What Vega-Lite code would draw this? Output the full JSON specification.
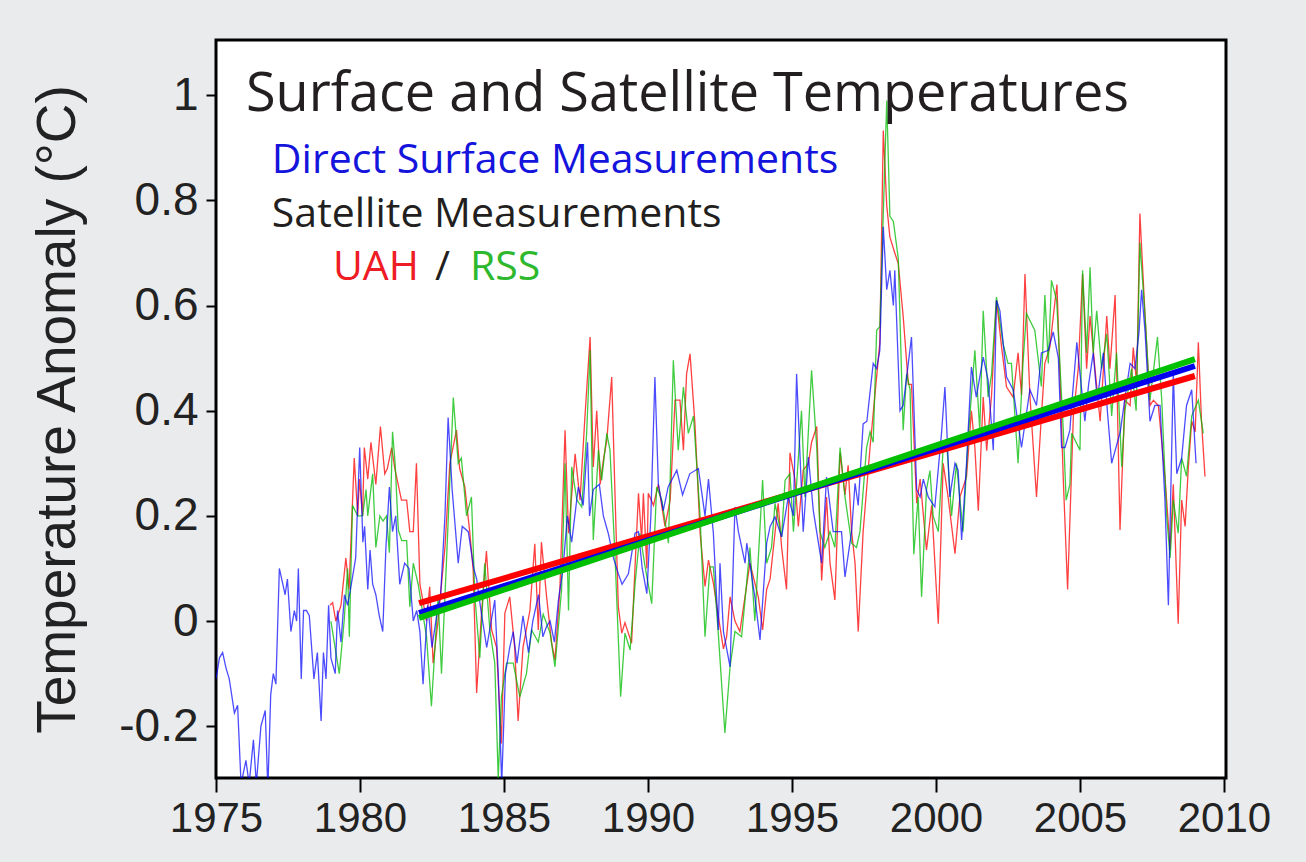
{
"$schema":"https://vega.github.io/schema/vega-lite/v6.json",
"width":1010,"height":738,
"autosize":{"type":"none"},
"padding":{"left":216,"top":40,"right":80,"bottom":84},
"background":"#eaebed",
"config":{"view":{"stroke":"#000","strokeWidth":3,"fill":"#ffffff"},
 "axisX":{"labelOverlap":false,"labelFlush":false,"labelBound":false,"grid":false,"domain":false,"ticks":true,"tickSize":14,"tickWidth":2,"tickColor":"#000","labelFont":"Liberation Sans","labelFontSize":42,"labelColor":"#222","labelPadding":6},
 "axisY":{"labelOverlap":false,"labelFlush":false,"labelBound":false,"grid":false,"domain":false,"ticks":true,"tickSize":10,"tickWidth":2,"tickColor":"#000","labelFont":"Liberation Sans","labelFontSize":46,"labelColor":"#222","labelPadding":8,"titleFont":"Liberation Sans","titleFontSize":55,"titleFontWeight":"normal","titleColor":"#222","titlePadding":32}},
"data":{"values":[
{"s":"b","t":1975.00,"v":-0.11},{"s":"b","t":1975.12,"v":-0.07},{"s":"b","t":1975.23,"v":-0.06},{"s":"b","t":1975.35,"v":-0.09},{"s":"b","t":1975.46,"v":-0.11},{"s":"b","t":1975.64,"v":-0.175},{"s":"b","t":1975.75,"v":-0.16},{"s":"b","t":1975.87,"v":-0.31},{"s":"b","t":1976.04,"v":-0.265},{"s":"b","t":1976.15,"v":-0.31},{"s":"b","t":1976.30,"v":-0.226},{"s":"b","t":1976.40,"v":-0.31},{"s":"b","t":1976.56,"v":-0.20},{"s":"b","t":1976.71,"v":-0.17},{"s":"b","t":1976.80,"v":-0.32},{"s":"b","t":1976.90,"v":-0.14},{"s":"b","t":1976.99,"v":-0.10},{"s":"b","t":1977.08,"v":-0.12},{"s":"b","t":1977.20,"v":0.10},{"s":"b","t":1977.32,"v":0.07},{"s":"b","t":1977.40,"v":0.05},{"s":"b","t":1977.48,"v":0.08},{"s":"b","t":1977.60,"v":-0.02},{"s":"b","t":1977.72,"v":0.02},{"s":"b","t":1977.80,"v":0.00},{"s":"b","t":1977.86,"v":0.10},{"s":"b","t":1977.96,"v":-0.11},{"s":"b","t":1978.04,"v":0.02},{"s":"b","t":1978.14,"v":0.02},{"s":"b","t":1978.24,"v":0.01},{"s":"b","t":1978.40,"v":-0.11},{"s":"b","t":1978.52,"v":-0.06},{"s":"b","t":1978.65,"v":-0.19},{"s":"b","t":1978.73,"v":-0.06},{"s":"b","t":1978.82,"v":-0.11},{"s":"b","t":1978.91,"v":0.03},{"s":"b","t":1978.99,"v":-0.07},{"s":"b","t":1979.14,"v":-0.10},{"s":"b","t":1979.22,"v":0.02},{"s":"b","t":1979.34,"v":-0.04},{"s":"b","t":1979.46,"v":0.05},{"s":"b","t":1979.57,"v":0.03},{"s":"b","t":1979.73,"v":0.08},{"s":"b","t":1979.85,"v":0.12},{"s":"b","t":1979.99,"v":0.33},{"s":"b","t":1980.10,"v":0.15},{"s":"b","t":1980.16,"v":0.18},{"s":"b","t":1980.27,"v":0.06},{"s":"b","t":1980.35,"v":0.135},{"s":"b","t":1980.44,"v":0.07},{"s":"b","t":1980.55,"v":0.05},{"s":"b","t":1980.67,"v":0.01},{"s":"b","t":1980.79,"v":-0.02},{"s":"b","t":1980.90,"v":0.14},{"s":"b","t":1981.02,"v":0.255},{"s":"b","t":1981.13,"v":0.17},{"s":"b","t":1981.24,"v":0.20},{"s":"b","t":1981.38,"v":0.07},{"s":"b","t":1981.55,"v":0.11},{"s":"b","t":1981.70,"v":0.10},{"s":"b","t":1981.85,"v":0.00},{"s":"b","t":1981.97,"v":0.02},{"s":"b","t":1982.08,"v":-0.02},{"s":"b","t":1982.19,"v":-0.12},{"s":"b","t":1982.35,"v":0.03},{"s":"b","t":1982.50,"v":-0.05},{"s":"b","t":1982.66,"v":0.01},{"s":"b","t":1982.80,"v":0.05},{"s":"b","t":1982.95,"v":0.20},{"s":"b","t":1983.06,"v":0.387},{"s":"b","t":1983.20,"v":0.25},{"s":"b","t":1983.41,"v":0.11},{"s":"b","t":1983.55,"v":0.18},{"s":"b","t":1983.76,"v":0.17},{"s":"b","t":1983.95,"v":0.10},{"s":"b","t":1984.05,"v":0.08},{"s":"b","t":1984.20,"v":0.02},{"s":"b","t":1984.40,"v":-0.05},{"s":"b","t":1984.68,"v":0.04},{"s":"b","t":1984.80,"v":-0.10},{"s":"b","t":1984.92,"v":-0.31},{"s":"b","t":1985.05,"v":-0.10},{"s":"b","t":1985.20,"v":-0.05},{"s":"b","t":1985.32,"v":-0.02},{"s":"b","t":1985.45,"v":-0.08},{"s":"b","t":1985.66,"v":0.01},{"s":"b","t":1985.85,"v":-0.06},{"s":"b","t":1986.00,"v":0.00},{"s":"b","t":1986.20,"v":0.05},{"s":"b","t":1986.35,"v":-0.03},{"s":"b","t":1986.48,"v":-0.01},{"s":"b","t":1986.60,"v":0.00},{"s":"b","t":1986.75,"v":-0.04},{"s":"b","t":1986.89,"v":0.04},{"s":"b","t":1987.05,"v":0.10},{"s":"b","t":1987.20,"v":0.20},{"s":"b","t":1987.35,"v":0.15},{"s":"b","t":1987.58,"v":0.255},{"s":"b","t":1987.75,"v":0.22},{"s":"b","t":1987.90,"v":0.34},{"s":"b","t":1987.97,"v":0.20},{"s":"b","t":1988.10,"v":0.25},{"s":"b","t":1988.31,"v":0.26},{"s":"b","t":1988.45,"v":0.20},{"s":"b","t":1988.62,"v":0.167},{"s":"b","t":1988.80,"v":0.12},{"s":"b","t":1988.97,"v":0.09},{"s":"b","t":1989.10,"v":0.07},{"s":"b","t":1989.32,"v":0.09},{"s":"b","t":1989.55,"v":0.167},{"s":"b","t":1989.67,"v":0.17},{"s":"b","t":1989.80,"v":0.10},{"s":"b","t":1989.96,"v":0.052},{"s":"b","t":1990.10,"v":0.20},{"s":"b","t":1990.24,"v":0.464},{"s":"b","t":1990.36,"v":0.26},{"s":"b","t":1990.53,"v":0.21},{"s":"b","t":1990.70,"v":0.255},{"s":"b","t":1991.00,"v":0.287},{"s":"b","t":1991.20,"v":0.24},{"s":"b","t":1991.45,"v":0.28},{"s":"b","t":1991.75,"v":0.29},{"s":"b","t":1991.98,"v":0.20},{"s":"b","t":1992.10,"v":0.27},{"s":"b","t":1992.27,"v":0.167},{"s":"b","t":1992.44,"v":-0.017},{"s":"b","t":1992.50,"v":0.11},{"s":"b","t":1992.62,"v":-0.02},{"s":"b","t":1992.85,"v":-0.087},{"s":"b","t":1993.02,"v":0.217},{"s":"b","t":1993.14,"v":0.17},{"s":"b","t":1993.37,"v":0.11},{"s":"b","t":1993.43,"v":0.148},{"s":"b","t":1993.71,"v":0.046},{"s":"b","t":1993.89,"v":-0.036},{"s":"b","t":1994.12,"v":0.148},{"s":"b","t":1994.24,"v":0.18},{"s":"b","t":1994.41,"v":0.198},{"s":"b","t":1994.64,"v":0.16},{"s":"b","t":1994.87,"v":0.236},{"s":"b","t":1995.05,"v":0.20},{"s":"b","t":1995.16,"v":0.47},{"s":"b","t":1995.39,"v":0.17},{"s":"b","t":1995.57,"v":0.312},{"s":"b","t":1995.74,"v":0.21},{"s":"b","t":1996.03,"v":0.11},{"s":"b","t":1996.20,"v":0.274},{"s":"b","t":1996.43,"v":0.17},{"s":"b","t":1996.72,"v":0.17},{"s":"b","t":1996.84,"v":0.084},{"s":"b","t":1997.07,"v":0.17},{"s":"b","t":1997.19,"v":0.262},{"s":"b","t":1997.30,"v":0.22},{"s":"b","t":1997.47,"v":0.375},{"s":"b","t":1997.60,"v":0.38},{"s":"b","t":1997.82,"v":0.49},{"s":"b","t":1997.94,"v":0.48},{"s":"b","t":1998.05,"v":0.515},{"s":"b","t":1998.17,"v":0.75},{"s":"b","t":1998.29,"v":0.63},{"s":"b","t":1998.40,"v":0.667},{"s":"b","t":1998.52,"v":0.60},{"s":"b","t":1998.57,"v":0.667},{"s":"b","t":1998.75,"v":0.40},{"s":"b","t":1998.86,"v":0.41},{"s":"b","t":1999.15,"v":0.54},{"s":"b","t":1999.33,"v":0.25},{"s":"b","t":1999.45,"v":0.236},{"s":"b","t":1999.56,"v":0.27},{"s":"b","t":1999.73,"v":0.236},{"s":"b","t":1999.96,"v":0.217},{"s":"b","t":2000.19,"v":0.356},{"s":"b","t":2000.31,"v":0.445},{"s":"b","t":2000.48,"v":0.236},{"s":"b","t":2000.66,"v":0.30},{"s":"b","t":2000.77,"v":0.287},{"s":"b","t":2000.89,"v":0.154},{"s":"b","t":2001.06,"v":0.30},{"s":"b","t":2001.23,"v":0.483},{"s":"b","t":2001.40,"v":0.426},{"s":"b","t":2001.64,"v":0.502},{"s":"b","t":2001.81,"v":0.458},{"s":"b","t":2001.99,"v":0.325},{"s":"b","t":2002.10,"v":0.61},{"s":"b","t":2002.22,"v":0.59},{"s":"b","t":2002.45,"v":0.464},{"s":"b","t":2002.68,"v":0.44},{"s":"b","t":2002.97,"v":0.33},{"s":"b","t":2003.26,"v":0.44},{"s":"b","t":2003.49,"v":0.41},{"s":"b","t":2003.66,"v":0.51},{"s":"b","t":2003.90,"v":0.515},{"s":"b","t":2004.07,"v":0.55},{"s":"b","t":2004.25,"v":0.50},{"s":"b","t":2004.36,"v":0.33},{"s":"b","t":2004.48,"v":0.33},{"s":"b","t":2004.65,"v":0.363},{"s":"b","t":2004.71,"v":0.41},{"s":"b","t":2004.89,"v":0.53},{"s":"b","t":2005.17,"v":0.38},{"s":"b","t":2005.30,"v":0.45},{"s":"b","t":2005.46,"v":0.51},{"s":"b","t":2005.60,"v":0.42},{"s":"b","t":2005.81,"v":0.51},{"s":"b","t":2005.95,"v":0.40},{"s":"b","t":2006.10,"v":0.30},{"s":"b","t":2006.40,"v":0.36},{"s":"b","t":2006.55,"v":0.42},{"s":"b","t":2006.74,"v":0.49},{"s":"b","t":2006.91,"v":0.48},{"s":"b","t":2007.05,"v":0.55},{"s":"b","t":2007.14,"v":0.63},{"s":"b","t":2007.26,"v":0.55},{"s":"b","t":2007.43,"v":0.38},{"s":"b","t":2007.60,"v":0.41},{"s":"b","t":2007.78,"v":0.41},{"s":"b","t":2007.95,"v":0.23},{"s":"b","t":2008.07,"v":0.03},{"s":"b","t":2008.24,"v":0.47},{"s":"b","t":2008.36,"v":0.28},{"s":"b","t":2008.53,"v":0.31},{"s":"b","t":2008.70,"v":0.41},{"s":"b","t":2008.88,"v":0.44},{"s":"b","t":2009.03,"v":0.30},
{"s":"u","t":1978.96,"v":0.03},{"s":"u","t":1979.05,"v":0.035},{"s":"u","t":1979.16,"v":0.00},{"s":"u","t":1979.34,"v":0.03},{"s":"u","t":1979.51,"v":0.12},{"s":"u","t":1979.62,"v":0.06},{"s":"u","t":1979.80,"v":0.31},{"s":"u","t":1979.92,"v":0.20},{"s":"u","t":1979.98,"v":0.27},{"s":"u","t":1980.09,"v":0.20},{"s":"u","t":1980.15,"v":0.33},{"s":"u","t":1980.27,"v":0.27},{"s":"u","t":1980.38,"v":0.34},{"s":"u","t":1980.55,"v":0.26},{"s":"u","t":1980.71,"v":0.37},{"s":"u","t":1980.86,"v":0.28},{"s":"u","t":1980.95,"v":0.29},{"s":"u","t":1981.10,"v":0.33},{"s":"u","t":1981.21,"v":0.29},{"s":"u","t":1981.44,"v":0.23},{"s":"u","t":1981.62,"v":0.23},{"s":"u","t":1981.73,"v":0.17},{"s":"u","t":1981.85,"v":0.17},{"s":"u","t":1981.96,"v":0.30},{"s":"u","t":1982.08,"v":0.07},{"s":"u","t":1982.31,"v":0.00},{"s":"u","t":1982.42,"v":0.065},{"s":"u","t":1982.54,"v":-0.08},{"s":"u","t":1982.71,"v":0.00},{"s":"u","t":1982.95,"v":0.14},{"s":"u","t":1983.12,"v":0.30},{"s":"u","t":1983.35,"v":0.363},{"s":"u","t":1983.46,"v":0.29},{"s":"u","t":1983.64,"v":0.255},{"s":"u","t":1983.81,"v":0.17},{"s":"u","t":1983.93,"v":0.097},{"s":"u","t":1984.05,"v":-0.137},{"s":"u","t":1984.22,"v":0.015},{"s":"u","t":1984.39,"v":0.133},{"s":"u","t":1984.57,"v":-0.017},{"s":"u","t":1984.74,"v":-0.05},{"s":"u","t":1984.91,"v":-0.233},{"s":"u","t":1985.03,"v":0.015},{"s":"u","t":1985.20,"v":0.046},{"s":"u","t":1985.37,"v":-0.05},{"s":"u","t":1985.49,"v":-0.19},{"s":"u","t":1985.66,"v":-0.05},{"s":"u","t":1985.90,"v":0.02},{"s":"u","t":1986.07,"v":0.147},{"s":"u","t":1986.19,"v":-0.017},{"s":"u","t":1986.30,"v":0.15},{"s":"u","t":1986.48,"v":0.046},{"s":"u","t":1986.65,"v":-0.04},{"s":"u","t":1986.77,"v":-0.074},{"s":"u","t":1986.94,"v":0.06},{"s":"u","t":1987.12,"v":0.363},{"s":"u","t":1987.24,"v":0.167},{"s":"u","t":1987.47,"v":0.318},{"s":"u","t":1987.64,"v":0.23},{"s":"u","t":1987.81,"v":0.388},{"s":"u","t":1987.99,"v":0.54},{"s":"u","t":1988.10,"v":0.293},{"s":"u","t":1988.22,"v":0.40},{"s":"u","t":1988.34,"v":0.26},{"s":"u","t":1988.45,"v":0.306},{"s":"u","t":1988.57,"v":0.344},{"s":"u","t":1988.74,"v":0.464},{"s":"u","t":1988.86,"v":0.23},{"s":"u","t":1988.97,"v":0.027},{"s":"u","t":1989.09,"v":-0.023},{"s":"u","t":1989.20,"v":-0.003},{"s":"u","t":1989.43,"v":-0.042},{"s":"u","t":1989.55,"v":0.103},{"s":"u","t":1989.67,"v":0.243},{"s":"u","t":1989.78,"v":0.154},{"s":"u","t":1989.84,"v":0.243},{"s":"u","t":1989.96,"v":0.10},{"s":"u","t":1990.01,"v":0.243},{"s":"u","t":1990.19,"v":0.22},{"s":"u","t":1990.36,"v":0.26},{"s":"u","t":1990.59,"v":0.18},{"s":"u","t":1990.77,"v":0.23},{"s":"u","t":1990.94,"v":0.42},{"s":"u","t":1991.11,"v":0.42},{"s":"u","t":1991.23,"v":0.325},{"s":"u","t":1991.34,"v":0.47},{"s":"u","t":1991.46,"v":0.508},{"s":"u","t":1991.63,"v":0.375},{"s":"u","t":1991.81,"v":0.167},{"s":"u","t":1991.98,"v":0.066},{"s":"u","t":1992.10,"v":0.116},{"s":"u","t":1992.27,"v":0.072},{"s":"u","t":1992.44,"v":0.01},{"s":"u","t":1992.62,"v":-0.053},{"s":"u","t":1992.73,"v":-0.03},{"s":"u","t":1992.85,"v":0.046},{"s":"u","t":1993.02,"v":0.00},{"s":"u","t":1993.19,"v":-0.02},{"s":"u","t":1993.54,"v":0.11},{"s":"u","t":1993.83,"v":0.046},{"s":"u","t":1993.98,"v":-0.017},{"s":"u","t":1994.12,"v":0.06},{"s":"u","t":1994.24,"v":0.08},{"s":"u","t":1994.52,"v":0.224},{"s":"u","t":1994.64,"v":0.14},{"s":"u","t":1994.81,"v":0.06},{"s":"u","t":1994.93,"v":0.32},{"s":"u","t":1995.10,"v":0.27},{"s":"u","t":1995.22,"v":0.18},{"s":"u","t":1995.39,"v":0.287},{"s":"u","t":1995.57,"v":0.30},{"s":"u","t":1995.68,"v":0.34},{"s":"u","t":1995.86,"v":0.37},{"s":"u","t":1996.03,"v":0.077},{"s":"u","t":1996.20,"v":0.236},{"s":"u","t":1996.32,"v":0.11},{"s":"u","t":1996.49,"v":0.04},{"s":"u","t":1996.67,"v":0.32},{"s":"u","t":1996.84,"v":0.24},{"s":"u","t":1996.95,"v":0.296},{"s":"u","t":1997.07,"v":0.17},{"s":"u","t":1997.19,"v":0.11},{"s":"u","t":1997.30,"v":-0.02},{"s":"u","t":1997.47,"v":0.17},{"s":"u","t":1997.71,"v":0.33},{"s":"u","t":1997.88,"v":0.43},{"s":"u","t":1998.05,"v":0.53},{"s":"u","t":1998.17,"v":0.933},{"s":"u","t":1998.29,"v":0.79},{"s":"u","t":1998.40,"v":0.73},{"s":"u","t":1998.57,"v":0.70},{"s":"u","t":1998.69,"v":0.68},{"s":"u","t":1998.86,"v":0.58},{"s":"u","t":1999.04,"v":0.45},{"s":"u","t":1999.15,"v":0.45},{"s":"u","t":1999.33,"v":0.224},{"s":"u","t":1999.45,"v":0.27},{"s":"u","t":1999.67,"v":0.135},{"s":"u","t":1999.85,"v":0.22},{"s":"u","t":2000.08,"v":-0.005},{"s":"u","t":2000.25,"v":0.30},{"s":"u","t":2000.42,"v":0.236},{"s":"u","t":2000.66,"v":0.128},{"s":"u","t":2000.83,"v":0.236},{"s":"u","t":2001.06,"v":0.274},{"s":"u","t":2001.23,"v":0.40},{"s":"u","t":2001.35,"v":0.33},{"s":"u","t":2001.47,"v":0.21},{"s":"u","t":2001.64,"v":0.426},{"s":"u","t":2001.76,"v":0.324},{"s":"u","t":2001.93,"v":0.43},{"s":"u","t":2002.10,"v":0.61},{"s":"u","t":2002.28,"v":0.52},{"s":"u","t":2002.45,"v":0.445},{"s":"u","t":2002.68,"v":0.426},{"s":"u","t":2002.85,"v":0.51},{"s":"u","t":2002.97,"v":0.43},{"s":"u","t":2003.09,"v":0.66},{"s":"u","t":2003.26,"v":0.43},{"s":"u","t":2003.49,"v":0.236},{"s":"u","t":2003.66,"v":0.39},{"s":"u","t":2003.78,"v":0.49},{"s":"u","t":2003.95,"v":0.52},{"s":"u","t":2004.20,"v":0.64},{"s":"u","t":2004.42,"v":0.27},{"s":"u","t":2004.57,"v":0.06},{"s":"u","t":2004.77,"v":0.39},{"s":"u","t":2004.94,"v":0.48},{"s":"u","t":2005.09,"v":0.66},{"s":"u","t":2005.23,"v":0.48},{"s":"u","t":2005.35,"v":0.58},{"s":"u","t":2005.52,"v":0.48},{"s":"u","t":2005.70,"v":0.38},{"s":"u","t":2005.93,"v":0.58},{"s":"u","t":2006.04,"v":0.48},{"s":"u","t":2006.22,"v":0.62},{"s":"u","t":2006.39,"v":0.173},{"s":"u","t":2006.56,"v":0.42},{"s":"u","t":2006.74,"v":0.41},{"s":"u","t":2006.85,"v":0.52},{"s":"u","t":2006.97,"v":0.45},{"s":"u","t":2007.08,"v":0.775},{"s":"u","t":2007.26,"v":0.58},{"s":"u","t":2007.43,"v":0.41},{"s":"u","t":2007.55,"v":0.42},{"s":"u","t":2007.72,"v":0.41},{"s":"u","t":2007.95,"v":0.275},{"s":"u","t":2008.13,"v":0.135},{"s":"u","t":2008.24,"v":0.26},{"s":"u","t":2008.41,"v":-0.005},{"s":"u","t":2008.53,"v":0.23},{"s":"u","t":2008.65,"v":0.18},{"s":"u","t":2008.76,"v":0.29},{"s":"u","t":2008.88,"v":0.38},{"s":"u","t":2009.00,"v":0.36},{"s":"u","t":2009.11,"v":0.53},{"s":"u","t":2009.22,"v":0.38},{"s":"u","t":2009.34,"v":0.275},
{"s":"r","t":1978.99,"v":0.00},{"s":"r","t":1979.28,"v":-0.10},{"s":"r","t":1979.45,"v":0.00},{"s":"r","t":1979.57,"v":0.10},{"s":"r","t":1979.63,"v":-0.03},{"s":"r","t":1979.74,"v":0.22},{"s":"r","t":1979.92,"v":0.20},{"s":"r","t":1980.09,"v":0.20},{"s":"r","t":1980.21,"v":0.25},{"s":"r","t":1980.27,"v":0.20},{"s":"r","t":1980.44,"v":0.28},{"s":"r","t":1980.55,"v":0.14},{"s":"r","t":1980.69,"v":0.20},{"s":"r","t":1980.80,"v":0.19},{"s":"r","t":1980.92,"v":0.20},{"s":"r","t":1981.02,"v":0.13},{"s":"r","t":1981.13,"v":0.36},{"s":"r","t":1981.22,"v":0.30},{"s":"r","t":1981.33,"v":0.173},{"s":"r","t":1981.45,"v":0.153},{"s":"r","t":1981.62,"v":0.153},{"s":"r","t":1981.73,"v":0.027},{"s":"r","t":1981.85,"v":0.11},{"s":"r","t":1982.02,"v":0.07},{"s":"r","t":1982.31,"v":-0.03},{"s":"r","t":1982.48,"v":-0.162},{"s":"r","t":1982.71,"v":0.046},{"s":"r","t":1982.83,"v":-0.10},{"s":"r","t":1983.00,"v":0.11},{"s":"r","t":1983.24,"v":0.425},{"s":"r","t":1983.41,"v":0.30},{"s":"r","t":1983.52,"v":0.31},{"s":"r","t":1983.70,"v":0.20},{"s":"r","t":1983.87,"v":0.236},{"s":"r","t":1983.99,"v":0.046},{"s":"r","t":1984.16,"v":-0.07},{"s":"r","t":1984.33,"v":0.11},{"s":"r","t":1984.51,"v":-0.017},{"s":"r","t":1984.68,"v":-0.08},{"s":"r","t":1984.80,"v":-0.30},{"s":"r","t":1984.91,"v":-0.144},{"s":"r","t":1985.09,"v":-0.08},{"s":"r","t":1985.32,"v":-0.08},{"s":"r","t":1985.55,"v":-0.144},{"s":"r","t":1985.78,"v":-0.10},{"s":"r","t":1985.96,"v":-0.017},{"s":"r","t":1986.19,"v":-0.04},{"s":"r","t":1986.36,"v":0.013},{"s":"r","t":1986.60,"v":-0.023},{"s":"r","t":1986.77,"v":-0.087},{"s":"r","t":1987.00,"v":0.06},{"s":"r","t":1987.12,"v":0.30},{"s":"r","t":1987.24,"v":0.02},{"s":"r","t":1987.35,"v":0.293},{"s":"r","t":1987.53,"v":0.23},{"s":"r","t":1987.70,"v":0.217},{"s":"r","t":1987.87,"v":0.357},{"s":"r","t":1987.99,"v":0.515},{"s":"r","t":1988.10,"v":0.154},{"s":"r","t":1988.28,"v":0.325},{"s":"r","t":1988.39,"v":0.268},{"s":"r","t":1988.57,"v":0.357},{"s":"r","t":1988.68,"v":0.325},{"s":"r","t":1988.86,"v":0.116},{"s":"r","t":1989.05,"v":-0.144},{"s":"r","t":1989.20,"v":-0.023},{"s":"r","t":1989.38,"v":-0.055},{"s":"r","t":1989.55,"v":0.07},{"s":"r","t":1989.72,"v":0.167},{"s":"r","t":1989.90,"v":0.103},{"s":"r","t":1990.13,"v":0.033},{"s":"r","t":1990.30,"v":0.255},{"s":"r","t":1990.48,"v":0.23},{"s":"r","t":1990.71,"v":0.148},{"s":"r","t":1990.88,"v":0.496},{"s":"r","t":1991.05,"v":0.325},{"s":"r","t":1991.23,"v":0.445},{"s":"r","t":1991.40,"v":0.357},{"s":"r","t":1991.58,"v":0.39},{"s":"r","t":1991.81,"v":0.198},{"s":"r","t":1991.98,"v":-0.03},{"s":"r","t":1992.15,"v":0.103},{"s":"r","t":1992.27,"v":0.103},{"s":"r","t":1992.44,"v":-0.023},{"s":"r","t":1992.67,"v":-0.213},{"s":"r","t":1992.85,"v":-0.087},{"s":"r","t":1993.02,"v":-0.02},{"s":"r","t":1993.25,"v":-0.03},{"s":"r","t":1993.54,"v":0.14},{"s":"r","t":1993.71,"v":0.00},{"s":"r","t":1993.98,"v":0.268},{"s":"r","t":1994.12,"v":0.11},{"s":"r","t":1994.29,"v":0.14},{"s":"r","t":1994.41,"v":0.224},{"s":"r","t":1994.64,"v":0.16},{"s":"r","t":1994.76,"v":0.268},{"s":"r","t":1994.93,"v":0.28},{"s":"r","t":1995.05,"v":0.17},{"s":"r","t":1995.33,"v":0.40},{"s":"r","t":1995.45,"v":0.236},{"s":"r","t":1995.68,"v":0.477},{"s":"r","t":1995.86,"v":0.33},{"s":"r","t":1995.97,"v":0.17},{"s":"r","t":1996.14,"v":0.14},{"s":"r","t":1996.32,"v":0.17},{"s":"r","t":1996.49,"v":0.14},{"s":"r","t":1996.67,"v":0.33},{"s":"r","t":1996.84,"v":0.236},{"s":"r","t":1997.07,"v":0.148},{"s":"r","t":1997.24,"v":0.14},{"s":"r","t":1997.36,"v":0.17},{"s":"r","t":1997.59,"v":0.33},{"s":"r","t":1997.71,"v":0.36},{"s":"r","t":1997.82,"v":0.34},{"s":"r","t":1997.94,"v":0.553},{"s":"r","t":1998.05,"v":0.56},{"s":"r","t":1998.29,"v":0.99},{"s":"r","t":1998.40,"v":0.77},{"s":"r","t":1998.52,"v":0.76},{"s":"r","t":1998.69,"v":0.69},{"s":"r","t":1998.86,"v":0.363},{"s":"r","t":1998.98,"v":0.47},{"s":"r","t":1999.10,"v":0.44},{"s":"r","t":1999.23,"v":0.127},{"s":"r","t":1999.38,"v":0.236},{"s":"r","t":1999.50,"v":0.046},{"s":"r","t":1999.67,"v":0.25},{"s":"r","t":1999.79,"v":0.286},{"s":"r","t":1999.90,"v":0.20},{"s":"r","t":2000.08,"v":0.17},{"s":"r","t":2000.25,"v":0.33},{"s":"r","t":2000.37,"v":0.34},{"s":"r","t":2000.54,"v":0.20},{"s":"r","t":2000.71,"v":0.30},{"s":"r","t":2000.94,"v":0.17},{"s":"r","t":2001.12,"v":0.35},{"s":"r","t":2001.35,"v":0.515},{"s":"r","t":2001.52,"v":0.363},{"s":"r","t":2001.64,"v":0.59},{"s":"r","t":2001.81,"v":0.426},{"s":"r","t":2001.93,"v":0.47},{"s":"r","t":2002.10,"v":0.616},{"s":"r","t":2002.33,"v":0.527},{"s":"r","t":2002.50,"v":0.49},{"s":"r","t":2002.62,"v":0.49},{"s":"r","t":2002.85,"v":0.30},{"s":"r","t":2003.02,"v":0.49},{"s":"r","t":2003.14,"v":0.585},{"s":"r","t":2003.43,"v":0.553},{"s":"r","t":2003.66,"v":0.446},{"s":"r","t":2003.78,"v":0.62},{"s":"r","t":2003.90,"v":0.49},{"s":"r","t":2004.01,"v":0.648},{"s":"r","t":2004.19,"v":0.61},{"s":"r","t":2004.42,"v":0.363},{"s":"r","t":2004.52,"v":0.23},{"s":"r","t":2004.65,"v":0.26},{"s":"r","t":2004.71,"v":0.357},{"s":"r","t":2005.00,"v":0.325},{"s":"r","t":2005.09,"v":0.667},{"s":"r","t":2005.23,"v":0.51},{"s":"r","t":2005.35,"v":0.673},{"s":"r","t":2005.46,"v":0.51},{"s":"r","t":2005.58,"v":0.59},{"s":"r","t":2005.75,"v":0.48},{"s":"r","t":2005.93,"v":0.546},{"s":"r","t":2006.10,"v":0.39},{"s":"r","t":2006.27,"v":0.51},{"s":"r","t":2006.45,"v":0.293},{"s":"r","t":2006.56,"v":0.40},{"s":"r","t":2006.79,"v":0.48},{"s":"r","t":2006.95,"v":0.40},{"s":"r","t":2007.08,"v":0.72},{"s":"r","t":2007.26,"v":0.58},{"s":"r","t":2007.43,"v":0.42},{"s":"r","t":2007.69,"v":0.54},{"s":"r","t":2007.84,"v":0.42},{"s":"r","t":2008.01,"v":0.20},{"s":"r","t":2008.13,"v":0.12},{"s":"r","t":2008.24,"v":0.23},{"s":"r","t":2008.41,"v":0.167},{"s":"r","t":2008.53,"v":0.31},{"s":"r","t":2008.70,"v":0.275},{"s":"r","t":2008.88,"v":0.39},{"s":"r","t":2009.11,"v":0.42},{"s":"r","t":2009.28,"v":0.357},
{"s":"tu","t":1982.05,"v":0.034},{"s":"tu","t":2008.99,"v":0.466},
{"s":"tb","t":1982.05,"v":0.015},{"s":"tb","t":2008.99,"v":0.485},
{"s":"tr","t":1982.05,"v":0.006},{"s":"tr","t":2008.99,"v":0.498}
]},
"layer":[
{"transform":[{"filter":"datum.s=='u'"}],"mark":{"type":"line","color":"#ff0000","strokeWidth":1.3,"opacity":0.75,"clip":true},
 "encoding":{"x":{"field":"t","type":"quantitative","scale":{"domain":[1975,2010.07],"nice":false,"zero":false},"axis":{"values":[1975,1980,1985,1990,1995,2000,2005,2010],"labelExpr":"'' + datum.value","title":null}},
 "y":{"field":"v","type":"quantitative","scale":{"domain":[-0.2985,1.105],"nice":false,"zero":false},"axis":{"values":[-0.2,0,0.2,0.4,0.6,0.8,1],"labelExpr":"'' + datum.value","title":"Temperature Anomaly (°C)"}}}},
{"transform":[{"filter":"datum.s=='r'"}],"mark":{"type":"line","color":"#00bb00","strokeWidth":1.3,"opacity":0.75,"clip":true},
 "encoding":{"x":{"field":"t","type":"quantitative","scale":{"domain":[1975,2010.07],"nice":false,"zero":false},"axis":{"values":[1975,1980,1985,1990,1995,2000,2005,2010],"labelExpr":"'' + datum.value","title":null}},
 "y":{"field":"v","type":"quantitative","scale":{"domain":[-0.2985,1.105],"nice":false,"zero":false},"axis":{"values":[-0.2,0,0.2,0.4,0.6,0.8,1],"labelExpr":"'' + datum.value","title":"Temperature Anomaly (°C)"}}}},
{"transform":[{"filter":"datum.s=='b'"}],"mark":{"type":"line","color":"#0000ff","strokeWidth":1.3,"opacity":0.7,"clip":true},
 "encoding":{"x":{"field":"t","type":"quantitative","scale":{"domain":[1975,2010.07],"nice":false,"zero":false},"axis":{"values":[1975,1980,1985,1990,1995,2000,2005,2010],"labelExpr":"'' + datum.value","title":null}},
 "y":{"field":"v","type":"quantitative","scale":{"domain":[-0.2985,1.105],"nice":false,"zero":false},"axis":{"values":[-0.2,0,0.2,0.4,0.6,0.8,1],"labelExpr":"'' + datum.value","title":"Temperature Anomaly (°C)"}}}},
{"transform":[{"filter":"datum.s=='tu'"}],"mark":{"type":"line","color":"#ff0000","strokeWidth":6},
 "encoding":{"x":{"field":"t","type":"quantitative","scale":{"domain":[1975,2010.07],"nice":false,"zero":false},"axis":{"values":[1975,1980,1985,1990,1995,2000,2005,2010],"labelExpr":"'' + datum.value","title":null}},
 "y":{"field":"v","type":"quantitative","scale":{"domain":[-0.2985,1.105],"nice":false,"zero":false},"axis":{"values":[-0.2,0,0.2,0.4,0.6,0.8,1],"labelExpr":"'' + datum.value","title":"Temperature Anomaly (°C)"}}}},
{"transform":[{"filter":"datum.s=='tb'"}],"mark":{"type":"line","color":"#0000ee","strokeWidth":6},
 "encoding":{"x":{"field":"t","type":"quantitative","scale":{"domain":[1975,2010.07],"nice":false,"zero":false},"axis":{"values":[1975,1980,1985,1990,1995,2000,2005,2010],"labelExpr":"'' + datum.value","title":null}},
 "y":{"field":"v","type":"quantitative","scale":{"domain":[-0.2985,1.105],"nice":false,"zero":false},"axis":{"values":[-0.2,0,0.2,0.4,0.6,0.8,1],"labelExpr":"'' + datum.value","title":"Temperature Anomaly (°C)"}}}},
{"transform":[{"filter":"datum.s=='tr'"}],"mark":{"type":"line","color":"#00c000","strokeWidth":6},
 "encoding":{"x":{"field":"t","type":"quantitative","scale":{"domain":[1975,2010.07],"nice":false,"zero":false},"axis":{"values":[1975,1980,1985,1990,1995,2000,2005,2010],"labelExpr":"'' + datum.value","title":null}},
 "y":{"field":"v","type":"quantitative","scale":{"domain":[-0.2985,1.105],"nice":false,"zero":false},"axis":{"values":[-0.2,0,0.2,0.4,0.6,0.8,1],"labelExpr":"'' + datum.value","title":"Temperature Anomaly (°C)"}}}},
{"data":{"values":[{"label":"Surface and Satellite Temperatures"}]},"mark":{"type":"text","align":"left","baseline":"alphabetic","font":"Open Sans","fontSize":54,"color":"#231f20"},
 "encoding":{"x":{"datum":1976.04,"type":"quantitative","scale":{"domain":[1975,2010.07],"nice":false,"zero":false},"axis":{"values":[1975,1980,1985,1990,1995,2000,2005,2010],"labelExpr":"'' + datum.value","title":null}},
 "y":{"datum":0.970,"type":"quantitative","scale":{"domain":[-0.2985,1.105],"nice":false,"zero":false},"axis":{"values":[-0.2,0,0.2,0.4,0.6,0.8,1],"labelExpr":"'' + datum.value","title":"Temperature Anomaly (°C)"}},"text":{"field":"label"}}},
{"data":{"values":[{"label":"Direct Surface Measurements"}]},"mark":{"type":"text","align":"left","baseline":"alphabetic","font":"Open Sans","fontSize":41,"color":"#1414dc"},
 "encoding":{"x":{"datum":1976.94,"type":"quantitative","scale":{"domain":[1975,2010.07],"nice":false,"zero":false},"axis":{"values":[1975,1980,1985,1990,1995,2000,2005,2010],"labelExpr":"'' + datum.value","title":null}},
 "y":{"datum":0.852,"type":"quantitative","scale":{"domain":[-0.2985,1.105],"nice":false,"zero":false},"axis":{"values":[-0.2,0,0.2,0.4,0.6,0.8,1],"labelExpr":"'' + datum.value","title":"Temperature Anomaly (°C)"}},"text":{"field":"label"}}},
{"data":{"values":[{"label":"Satellite Measurements"}]},"mark":{"type":"text","align":"left","baseline":"alphabetic","font":"Open Sans","fontSize":41,"color":"#231f20"},
 "encoding":{"x":{"datum":1976.94,"type":"quantitative","scale":{"domain":[1975,2010.07],"nice":false,"zero":false},"axis":{"values":[1975,1980,1985,1990,1995,2000,2005,2010],"labelExpr":"'' + datum.value","title":null}},
 "y":{"datum":0.749,"type":"quantitative","scale":{"domain":[-0.2985,1.105],"nice":false,"zero":false},"axis":{"values":[-0.2,0,0.2,0.4,0.6,0.8,1],"labelExpr":"'' + datum.value","title":"Temperature Anomaly (°C)"}},"text":{"field":"label"}}},
{"data":{"values":[{"label":"UAH"}]},"mark":{"type":"text","align":"left","baseline":"alphabetic","font":"Open Sans","fontSize":41,"color":"#ee1c24"},
 "encoding":{"x":{"datum":1979.06,"type":"quantitative","scale":{"domain":[1975,2010.07],"nice":false,"zero":false},"axis":{"values":[1975,1980,1985,1990,1995,2000,2005,2010],"labelExpr":"'' + datum.value","title":null}},
 "y":{"datum":0.649,"type":"quantitative","scale":{"domain":[-0.2985,1.105],"nice":false,"zero":false},"axis":{"values":[-0.2,0,0.2,0.4,0.6,0.8,1],"labelExpr":"'' + datum.value","title":"Temperature Anomaly (°C)"}},"text":{"field":"label"}}},
{"data":{"values":[{"label":"/"}]},"mark":{"type":"text","align":"left","baseline":"alphabetic","font":"Open Sans","fontSize":41,"color":"#231f20"},
 "encoding":{"x":{"datum":1982.6,"type":"quantitative","scale":{"domain":[1975,2010.07],"nice":false,"zero":false},"axis":{"values":[1975,1980,1985,1990,1995,2000,2005,2010],"labelExpr":"'' + datum.value","title":null}},
 "y":{"datum":0.649,"type":"quantitative","scale":{"domain":[-0.2985,1.105],"nice":false,"zero":false},"axis":{"values":[-0.2,0,0.2,0.4,0.6,0.8,1],"labelExpr":"'' + datum.value","title":"Temperature Anomaly (°C)"}},"text":{"field":"label"}}},
{"data":{"values":[{"label":"RSS"}]},"mark":{"type":"text","align":"left","baseline":"alphabetic","font":"Open Sans","fontSize":41,"color":"#2db82d"},
 "encoding":{"x":{"datum":1983.82,"type":"quantitative","scale":{"domain":[1975,2010.07],"nice":false,"zero":false},"axis":{"values":[1975,1980,1985,1990,1995,2000,2005,2010],"labelExpr":"'' + datum.value","title":null}},
 "y":{"datum":0.649,"type":"quantitative","scale":{"domain":[-0.2985,1.105],"nice":false,"zero":false},"axis":{"values":[-0.2,0,0.2,0.4,0.6,0.8,1],"labelExpr":"'' + datum.value","title":"Temperature Anomaly (°C)"}},"text":{"field":"label"}}}
]
}
